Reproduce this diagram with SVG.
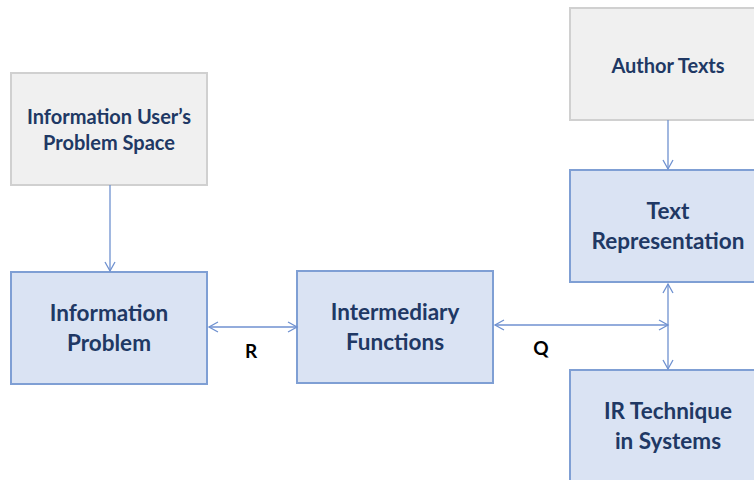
<svg xmlns="http://www.w3.org/2000/svg" width="754" height="480" viewBox="0 0 754 480">
<style>
.grey{fill:#f0f0f0;stroke:#d0d0d0;stroke-width:2}
.blue{fill:#dae3f3;stroke:#7f9fd4;stroke-width:2}
.t{font-family:Lato,"Open Sans",sans-serif;font-weight:bold;fill:#203864;text-anchor:middle}
.s{font-size:20px}
.l{font-size:22.5px}
.c{stroke:#6f91d0;stroke-width:1.3;fill:none}
.lab{font-family:Lato,"Liberation Sans",sans-serif;font-weight:bold;font-size:19px;fill:#000;text-anchor:middle}
</style>
<defs>
<marker id="a" markerWidth="12" markerHeight="12" refX="10" refY="6" orient="auto-start-reverse" markerUnits="userSpaceOnUse">
<path d="M1,1 L10,6 L1,11" fill="none" stroke="#6f91d0" stroke-width="1.3"/>
</marker>
</defs>
<rect width="754" height="480" fill="#fff"/>
<g id="user-space">
<rect class="grey" x="11" y="73" width="196" height="112"/>
<text class="t s" x="109" y="124">Information User’s</text>
<text class="t s" x="109" y="150">Problem Space</text>
</g>
<g id="info-problem">
<rect class="blue" x="11" y="272" width="196" height="112"/>
<text class="t l" x="109" y="321">Information</text>
<text class="t l" x="109" y="351">Problem</text>
</g>
<g id="intermediary">
<rect class="blue" x="297" y="271" width="196" height="112"/>
<text class="t l" x="395" y="320">Intermediary</text>
<text class="t l" x="395" y="350">Functions</text>
</g>
<g id="author-texts">
<rect class="grey" x="570" y="8" width="196" height="112"/>
<text class="t s" x="668" y="73">Author Texts</text>
</g>
<g id="text-rep">
<rect class="blue" x="570" y="170" width="196" height="112"/>
<text class="t l" x="668" y="219">Text</text>
<text class="t l" x="668" y="249">Representation</text>
</g>
<g id="ir-technique">
<rect class="blue" x="570" y="370" width="196" height="120"/>
<text class="t l" x="668" y="419">IR Technique</text>
<text class="t l" x="668" y="449">in Systems</text>
</g>
<g id="connectors">
<line class="c" x1="110" y1="185" x2="110" y2="271" marker-end="url(#a)"/>
<line class="c" x1="209" y1="327" x2="297" y2="327" marker-start="url(#a)" marker-end="url(#a)"/>
<line class="c" x1="495" y1="325" x2="668" y2="325" marker-start="url(#a)" marker-end="url(#a)"/>
<line class="c" x1="668" y1="120" x2="668" y2="169" marker-end="url(#a)"/>
<line class="c" x1="668" y1="284" x2="668" y2="369" marker-start="url(#a)" marker-end="url(#a)"/>
</g>
<text class="lab" x="251" y="358">R</text>
<text class="lab" x="541" y="355">Q</text>
</svg>
